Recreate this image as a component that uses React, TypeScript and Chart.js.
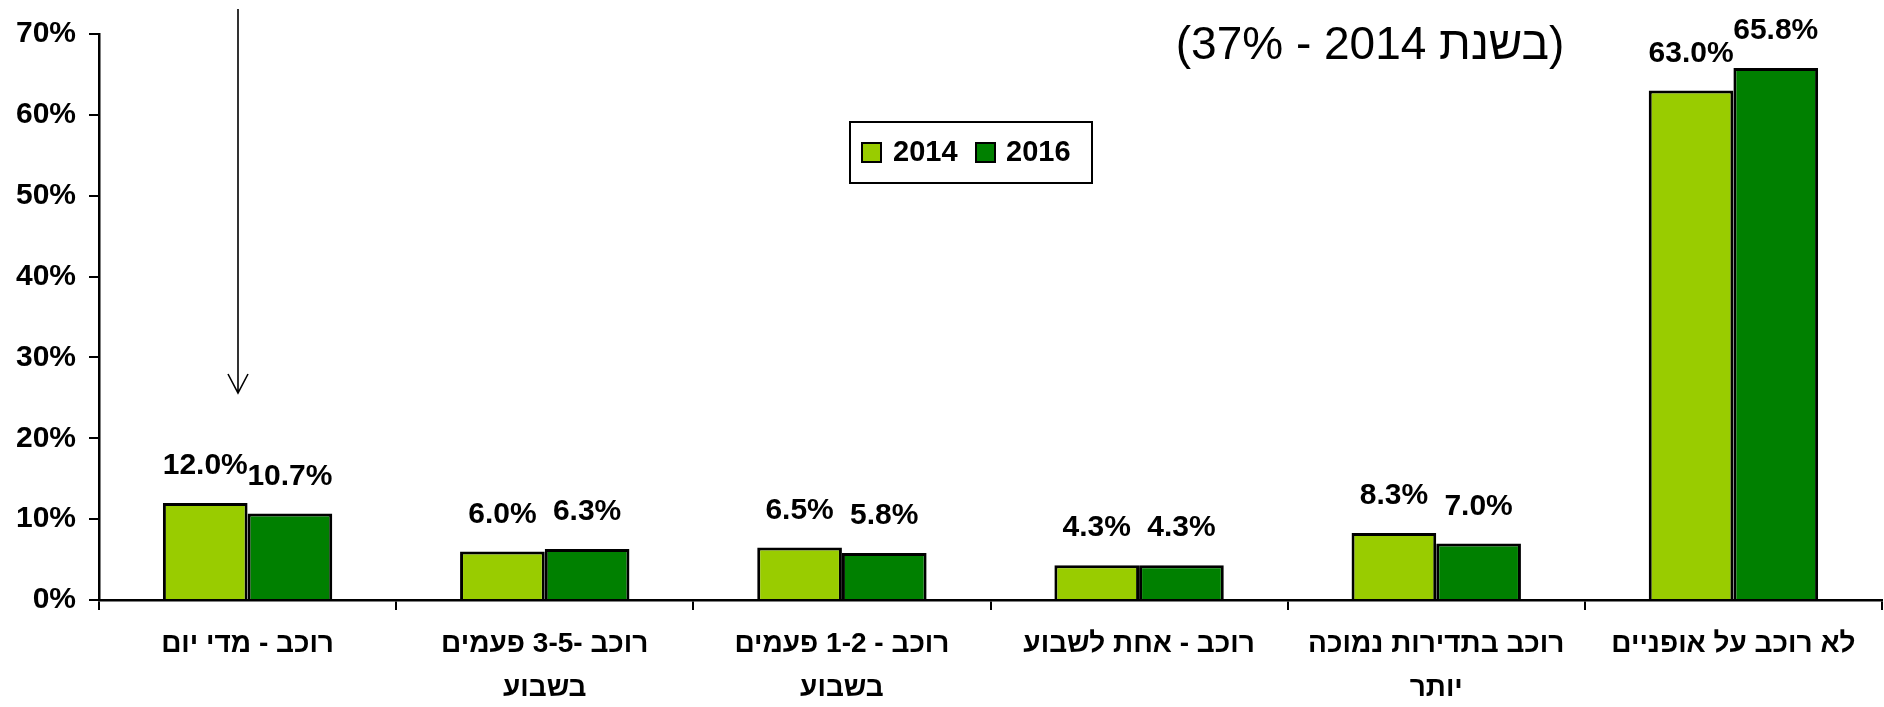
import React, { useEffect, useRef } from "react";
import { Chart, registerables } from "chart.js";

Chart.register(...registerables);

const CATEGORIES: string[][] = [
  ["רוכב - מדי יום"],
  ["רוכב -3-5 פעמים", "בשבוע"],
  ["רוכב - 1-2 פעמים", "בשבוע"],
  ["רוכב - אחת לשבוע"],
  ["רוכב בתדירות נמוכה", "יותר"],
  ["לא רוכב על אופניים"],
];
const SERIES_NAMES = ["2014", "2016"];
const VALUES_2014 = [12.0, 6.0, 6.5, 4.3, 8.3, 63.0];
const VALUES_2016 = [10.7, 6.3, 5.8, 4.3, 7.0, 65.8];
const COLORS = ["#99CC00", "#008000"];
const TITLE_TEXT = "(בשנת 2014 - 37%)";
const Y_MAX = 70;
const Y_STEP = 10;

const FONT = "'Liberation Sans', Arial, sans-serif";

const W = 1884;
const H = 707;

export default function App() {
  const ref = useRef<HTMLCanvasElement | null>(null);

  useEffect(() => {
    const canvas = ref.current;
    if (!canvas) return;

    const overlay = {
      id: "overlay",
      afterDatasetsDraw(chart: any) {
        const ctx = chart.ctx;
        ctx.save();
        ctx.direction = "rtl";
        ctx.fillStyle = "#000";
        ctx.font = `bold 30px ${FONT}`;
        ctx.textAlign = "center";
        ctx.textBaseline = "middle";
        chart.data.datasets.forEach((ds: any, di: number) => {
          const meta = chart.getDatasetMeta(di);
          meta.data.forEach((el: any, i: number) => {
            const v = ds.data[i] as number;
            ctx.fillText(v.toFixed(1) + "%", el.x, el.y - 37);
          });
        });
        ctx.restore();
      },
      afterDraw(chart: any) {
        const ctx = chart.ctx;
        ctx.save();
        // title fragment
        ctx.direction = "rtl";
        ctx.fillStyle = "#000";
        ctx.font = `46px ${FONT}`;
        ctx.textAlign = "center";
        ctx.textBaseline = "middle";
        ctx.fillText(TITLE_TEXT, 1370, 46);

        // arrow
        ctx.strokeStyle = "#000";
        ctx.lineWidth = 1.6;
        ctx.beginPath();
        ctx.moveTo(238, 9);
        ctx.lineTo(238, 393);
        ctx.moveTo(228, 374);
        ctx.lineTo(238, 393);
        ctx.lineTo(248, 374);
        ctx.stroke();

        // legend
        ctx.direction = "ltr";
        ctx.fillStyle = "#fff";
        ctx.fillRect(850, 122, 242, 61);
        ctx.lineWidth = 2;
        ctx.strokeStyle = "#000";
        ctx.strokeRect(850, 122, 242, 61);
        const items = [
          { sx: 862, tx: 893 },
          { sx: 976, tx: 1006 },
        ];
        ctx.font = `bold 29px ${FONT}`;
        ctx.textAlign = "left";
        ctx.textBaseline = "middle";
        items.forEach((it, i) => {
          ctx.fillStyle = COLORS[i];
          ctx.fillRect(it.sx, 143, 19, 19);
          ctx.lineWidth = 2;
          ctx.strokeStyle = "#000";
          ctx.strokeRect(it.sx, 143, 19, 19);
          ctx.fillStyle = "#000";
          ctx.fillText(SERIES_NAMES[i], it.tx, 153);
        });
        ctx.restore();
      },
    };

    const chart = new Chart(canvas, {
      type: "bar",
      data: {
        labels: CATEGORIES,
        datasets: [
          {
            label: SERIES_NAMES[0],
            data: VALUES_2014,
            backgroundColor: COLORS[0],
            borderColor: "#000",
            borderWidth: 3,
            categoryPercentage: 0.57,
            barPercentage: 1,
          },
          {
            label: SERIES_NAMES[1],
            data: VALUES_2016,
            backgroundColor: COLORS[1],
            borderColor: "#000",
            borderWidth: 3,
            categoryPercentage: 0.57,
            barPercentage: 1,
          },
        ],
      },
      options: {
        responsive: false,
        animation: false,
        layout: { padding: { top: 34, right: 2, left: 0, bottom: 0 } },
        plugins: {
          legend: { display: false },
          tooltip: { enabled: false },
          title: { display: false },
        },
        scales: {
          x: {
            grid: {
              display: true,
              drawOnChartArea: false,
              drawTicks: true,
              tickLength: 10,
              color: "#000",
              lineWidth: 2,
            },
            border: { display: true, color: "#000", width: 2.5 },
            ticks: {
              color: "#000",
              padding: 13,
              maxRotation: 0,
              autoSkip: false,
              font: { family: FONT, size: 28, weight: "bold", lineHeight: 1.55 },
            },
            afterFit(scale: any) {
              scale.height = H - 600;
            },
          },
          y: {
            min: 0,
            max: Y_MAX,
            grid: {
              display: true,
              drawOnChartArea: false,
              drawTicks: true,
              tickLength: 10,
              color: "#000",
              lineWidth: 2,
            },
            border: { display: true, color: "#000", width: 2.5 },
            ticks: {
              stepSize: Y_STEP,
              color: "#000",
              padding: 13,
              font: { family: FONT, size: 30, weight: "bold" },
              callback: (v: any) => v + "%",
            },
            afterFit(scale: any) {
              scale.width = 99;
            },
          },
        },
      },
      plugins: [overlay],
    });

    return () => chart.destroy();
  }, []);

  return (
    <div style={{ position: "absolute", left: 0, top: 0, width: W, height: H, background: "#fff" }}>
      <canvas ref={ref} width={W} height={H} dir="rtl" style={{ display: "block", width: W, height: H, direction: "rtl" }} />
    </div>
  );
}
